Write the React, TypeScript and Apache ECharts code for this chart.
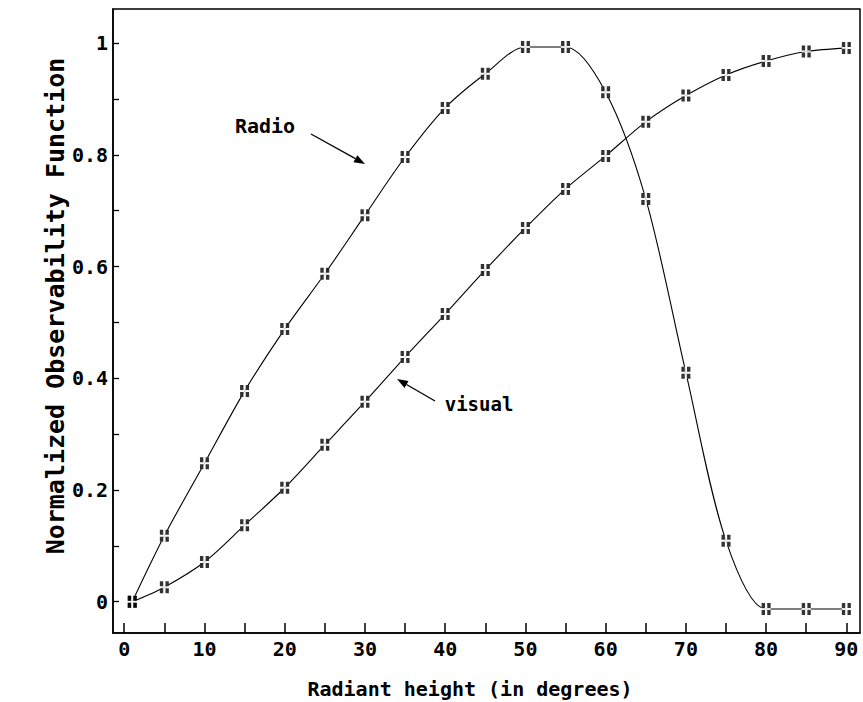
import React, { useEffect, useRef } from "react";
import * as echarts from "echarts";

// Radiant height (degrees)
const heights = [1, 5, 10, 15, 20, 25, 30, 35, 40, 45, 50, 55, 60, 65, 70, 75, 80, 85, 90];
// Normalized observability function, radio
const radio = [0, 0.118, 0.248, 0.377, 0.488, 0.587, 0.692, 0.796, 0.884, 0.945, 0.993, 0.993, 0.912, 0.721, 0.41, 0.109, -0.013, -0.013, -0.013];
// Normalized observability function, visual
const visual = [0, 0.026, 0.071, 0.137, 0.204, 0.281, 0.358, 0.438, 0.515, 0.594, 0.669, 0.739, 0.798, 0.859, 0.906, 0.943, 0.968, 0.985, 0.991];

const xTickValues = [0, 5, 10, 15, 20, 25, 30, 35, 40, 45, 50, 55, 60, 65, 70, 75, 80, 85, 90];
const xLabelValues = [0, 10, 20, 30, 40, 50, 60, 70, 80, 90];
const yTickValues = [0, 0.1, 0.2, 0.3, 0.4, 0.5, 0.6, 0.7, 0.8, 0.9, 1];
const yLabelValues = [0, 0.2, 0.4, 0.6, 0.8, 1];

const FONT = "DejaVu Sans Mono";
const MARKER = "path://M0 0h3v5h-3z M5 0h3v5h-3z M0 7h3v5h-3z M5 7h3v5h-3z";

function arrow(tx: number, ty: number, fx: number, fy: number) {
  const dx = tx - fx;
  const dy = ty - fy;
  const len = Math.sqrt(dx * dx + dy * dy);
  const ux = dx / len;
  const uy = dy / len;
  const hl = 11;
  const hw = 4;
  const bx = tx - ux * hl;
  const by = ty - uy * hl;
  const px = -uy;
  const py = ux;
  return [
    {
      type: "line",
      shape: { x1: fx, y1: fy, x2: bx, y2: by },
      style: { stroke: "#000", lineWidth: 1.3 },
    },
    {
      type: "polygon",
      shape: {
        points: [
          [tx, ty],
          [bx + px * hw, by + py * hw],
          [bx - px * hw, by - py * hw],
        ],
      },
      style: { fill: "#000" },
    },
  ];
}

export default function App() {
  const ref = useRef<HTMLDivElement>(null);
  useEffect(() => {
    document.body.style.margin = "0";
    if (!ref.current) return;
    const chart = echarts.init(ref.current, null, { renderer: "svg" });
    const pairs = (ys: number[]) => heights.map((h, i) => [h, ys[i]]);
    const lineSeries = (name: string, ys: number[]) => ({
      name,
      type: "line",
      data: pairs(ys),
      smooth: 0.3,
      symbol: "none",
      lineStyle: { color: "#000", width: 1.1 },
      z: 2,
    });
    const backSeries = (name: string, ys: number[]) => ({
      name: name + "-bg",
      type: "scatter",
      data: pairs(ys),
      symbol: "rect",
      symbolSize: [9, 12],
      itemStyle: { color: "#fff" },
      silent: true,
      z: 3,
    });
    const markSeries = (name: string, ys: number[]) => ({
      name: name + "-marks",
      type: "scatter",
      data: pairs(ys),
      symbol: MARKER,
      symbolSize: [9, 12],
      itemStyle: { color: "#000" },
      silent: true,
      z: 4,
    });
    chart.setOption({
      animation: false,
      backgroundColor: "#fff",
      grid: {
        left: 113,
        right: 3,
        top: 9,
        bottom: 69,
        show: true,
        borderColor: "#000",
        borderWidth: 1.5,
        backgroundColor: "transparent",
      },
      xAxis: {
        type: "value",
        min: -1.4,
        max: 91.7,
        splitLine: { show: false },
        axisLine: { show: true, onZero: false, lineStyle: { color: "#000", width: 1.5 } },
        axisTick: {
          show: true,
          inside: true,
          length: 10,
          customValues: xTickValues,
          lineStyle: { color: "#000", width: 1.5 },
        },
        axisLabel: {
          customValues: xLabelValues,
          color: "#000",
          fontFamily: FONT,
          fontSize: 20,
          fontWeight: "bold",
          margin: 6,
        },
      },
      yAxis: {
        type: "value",
        min: -0.056,
        max: 1.061,
        splitLine: { show: false },
        axisLine: { show: true, onZero: false, lineStyle: { color: "#000", width: 1.5 } },
        axisTick: {
          show: true,
          inside: true,
          length: 6,
          customValues: yTickValues,
          lineStyle: { color: "#000", width: 1.3 },
        },
        axisLabel: {
          customValues: yLabelValues,
          color: "#000",
          fontFamily: FONT,
          fontSize: 20,
          fontWeight: "bold",
          margin: 5,
          formatter: (v: number) => String(Math.round(v * 10) / 10),
        },
      },
      series: [
        lineSeries("Radio", radio),
        lineSeries("visual", visual),
        backSeries("Radio", radio),
        backSeries("visual", visual),
        markSeries("Radio", radio),
        markSeries("visual", visual),
      ],
      graphic: [
        {
          type: "text",
          x: 470,
          y: 689,
          style: {
            text: "Radiant height (in degrees)",
            fontFamily: FONT,
            fontSize: 20,
            fontWeight: "bold",
            fill: "#000",
            align: "center",
            verticalAlign: "middle",
          },
        },
        {
          type: "text",
          x: 55,
          y: 306,
          rotation: Math.PI / 2,
          style: {
            text: "Normalized Observability Function",
            fontFamily: FONT,
            fontSize: 25,
            fontWeight: "bold",
            fill: "#000",
            align: "center",
            verticalAlign: "middle",
          },
        },
        {
          type: "text",
          x: 265,
          y: 126,
          style: {
            text: "Radio",
            fontFamily: FONT,
            fontSize: 20,
            fontWeight: "bold",
            fill: "#000",
            align: "center",
            verticalAlign: "middle",
          },
        },
        {
          type: "text",
          x: 479,
          y: 404,
          style: {
            text: "visual",
            fontFamily: FONT,
            fontSize: 19,
            fontWeight: "bold",
            fill: "#000",
            align: "center",
            verticalAlign: "middle",
          },
        },
        ...arrow(365, 164, 311, 134),
        ...arrow(397, 379, 435, 401),
      ],
    });
    return () => chart.dispose();
  }, []);
  return <div ref={ref} style={{ width: 863, height: 702 }} />;
}
